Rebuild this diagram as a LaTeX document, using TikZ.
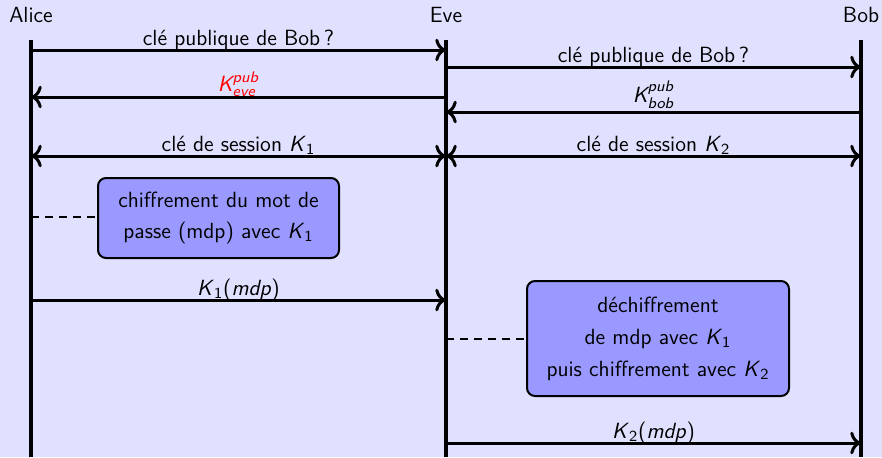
\documentclass[tikz,border=0pt]{standalone}
\usepackage{amsmath}
\usetikzlibrary{arrows.meta}
\definecolor{pagebg}{RGB}{224,224,255}
\definecolor{boxfill}{RGB}{153,153,255}
\newcommand\Kk[1]{\textit{K}$_{\textsf{#1}}$}
\begin{document}
\begin{tikzpicture}[x=0.5pt,y=-0.5pt,
  every node/.style={font=\sffamily\fontsize{11}{13}\selectfont},
  lifeline/.style={line width=2pt},
  msg/.style={line width=1.5pt,arrows={-To[scale=1.1]}},
  bimsg/.style={line width=1.5pt,arrows={To[scale=1.1]-To[scale=1.1]}},
  lbl/.style={anchor=base,inner sep=0pt},
  note/.style={draw,line width=1pt,fill=boxfill,rounded corners=4pt,align=center,inner sep=0pt},
  link/.style={line width=1pt,dash pattern=on 4pt off 3pt}]
  \fill[pagebg] (0,0) rectangle (882,457);
  \useasboundingbox (0,0) rectangle (882,457);

  % participants
  \node (alice) at (31,15) {Alice};
  \node (eve) at (446,15) {Eve};
  \node (bob) at (861,15) {Bob};
  \coordinate (aT) at (31,40);  \coordinate (aB) at (31,457);
  \coordinate (eT) at (446,40); \coordinate (eB) at (446,457);
  \coordinate (bT) at (861,40); \coordinate (bB) at (861,457);
  \draw[lifeline] (aT) -- (aB);
  \draw[lifeline] (eT) -- (eB);
  \draw[lifeline] (bT) -- (bB);

  % message end points
  \foreach \n/\y in {1/50,2/67,3/97,4/112,5/156,7/300,8/443}{
    \coordinate (a\n) at (31,\y);
    \coordinate (e\n) at (446,\y);
    \coordinate (b\n) at (861,\y);
  }

  % key exchange
  \draw[msg] (a1) -- (e1);
  \node[lbl] at (238.5,45) {clé publique de Bob\,?};
  \draw[msg] (e2) -- (b2);
  \node[lbl] at (653.5,62) {clé publique de Bob\,?};
  \draw[msg] (e3) -- (a3);
  \node[lbl,text=red] at (238.5,91) {$\textit{K}^{\textit{pub}}_{\textit{eve}}$};
  \draw[msg] (b4) -- (e4);
  \node[lbl] at (653.5,102) {$\textit{K}^{\textit{pub}}_{\textit{bob}}$};
  \draw[bimsg] (a5) -- (e5);
  \node[lbl] at (238.5,151) {clé de session \Kk{1}};
  \draw[bimsg] (e5) -- (b5);
  \node[lbl] at (653.5,151) {clé de session \Kk{2}};

  % Alice encrypts the password
  \node[note,minimum width=120.5pt,minimum height=40pt,
        font=\sffamily\fontsize{11}{15.5}\selectfont] (enc) at (218.5,218)
    {chiffrement du mot de\\passe (mdp) avec \Kk{1}};
  \coordinate (aN) at (31,217);
  \draw[link] (aN) -- (enc.west |- aN);

  \draw[msg] (a7) -- (e7);
  \node[lbl] at (238.5,295) {\Kk{1}(\textit{mdp})};

  % Eve decrypts and re-encrypts
  \node[note,minimum width=131pt,minimum height=57.5pt,
        font=\sffamily\fontsize{11}{16}\selectfont] (reenc) at (658,338.5)
    {déchiffrement\\de mdp avec \Kk{1}\\puis chiffrement avec \Kk{2}};
  \coordinate (eN) at (446,339);
  \draw[link] (eN) -- (reenc.west |- eN);

  \draw[msg] (e8) -- (b8);
  \node[lbl] at (653.5,438) {\Kk{2}(\textit{mdp})};
\end{tikzpicture}
\end{document}
